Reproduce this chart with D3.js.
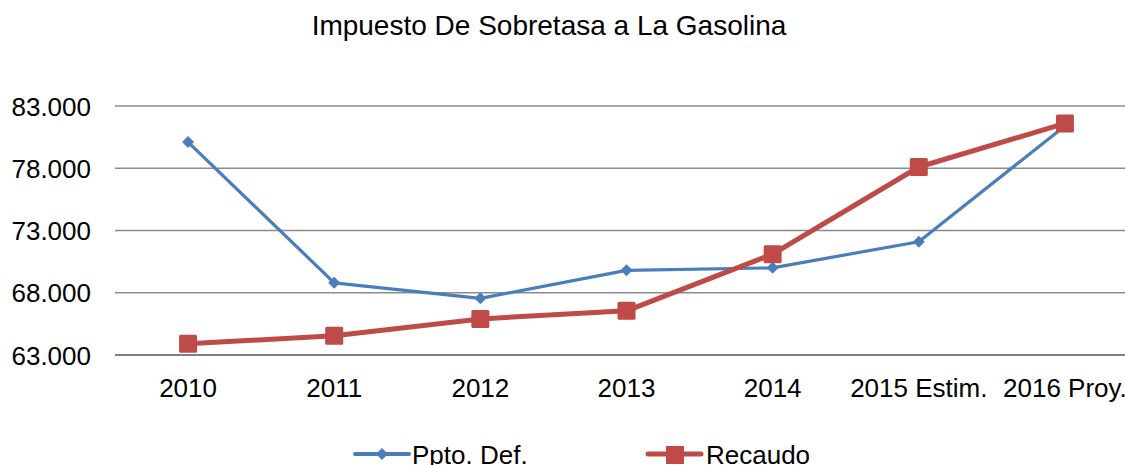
<!DOCTYPE html>
<html><head><meta charset="utf-8">
<script src="https://cdn.jsdelivr.net/npm/d3@7"></script>
<style>body{margin:0;background:#fff;overflow:hidden}svg{display:block}text{font-family:"Liberation Sans",Arial,sans-serif;fill:#000}</style>
</head><body>
<svg id="c" width="1125" height="465"></svg>
<script>
const categories = ["2010","2011","2012","2013","2014","2015 Estim.","2016 Proy."];
const pptoDef = [80.1, 68.8, 67.55, 69.8, 70.0, 72.1, 81.4];
const recaudo = [63.9, 64.55, 65.9, 66.55, 71.1, 78.1, 81.6];
const yTicks = [63, 68, 73, 78, 83];
const seriesNames = ["Ppto. Def.", "Recaudo"];

(function () {
const svg = d3.select("#c");
const pl = 115, pr = 1138, pt = 106, pb = 355;
const x = d3.scaleBand().domain(categories).range([pl, pr]);
const y = d3.scaleLinear().domain([63, 83]).range([pb, pt]);

svg.append("text").attr("x", 549).attr("y", 35).attr("text-anchor", "middle")
  .style("font-size", "28px").text("Impuesto De Sobretasa a La Gasolina");

const grid = svg.append("g");
yTicks.forEach(t => {
  grid.append("line").attr("x1", pl).attr("x2", pr).attr("y1", y(t)).attr("y2", y(t))
    .attr("stroke", t === 63 ? "#7f7f7f" : "#8c8c8c").attr("stroke-width", t === 63 ? 2 : 1.6);
});

const yAxis = d3.axisLeft(y).tickValues(yTicks).tickSize(0).tickPadding(0)
  .tickFormat(v => d3.format(".3f")(v));
const ya = svg.append("g").attr("transform", `translate(${pl - 24},0)`).call(yAxis);
ya.select(".domain").remove();
ya.selectAll("text").style("font-size", "26px").attr("fill", "#000").attr("dy", "0.35em");

const xAxis = d3.axisBottom(x).tickSize(0).tickPadding(0);
const xa = svg.append("g").attr("transform", `translate(0,${pb + 42})`).call(xAxis);
xa.select(".domain").remove();
xa.selectAll("text").style("font-size", "26px").attr("fill", "#000").attr("dy", "0");

const cx = c => x(c) + x.bandwidth() / 2;
const line = d3.line().x((d, i) => cx(categories[i])).y(d => y(d));

svg.append("path").datum(pptoDef).attr("d", line).attr("fill", "none")
  .attr("stroke", "#4a7ebb").attr("stroke-width", 3.2).attr("stroke-linejoin", "round");
svg.append("g").selectAll("path").data(pptoDef).join("path")
  .attr("d", d3.symbol().type(d3.symbolSquare).size(72))
  .attr("transform", (d, i) => `translate(${cx(categories[i])},${y(d)}) rotate(45)`)
  .attr("fill", "#4a7ebb");

svg.append("path").datum(recaudo).attr("d", line).attr("fill", "none")
  .attr("stroke", "#be4b48").attr("stroke-width", 5).attr("stroke-linejoin", "round");
svg.append("g").selectAll("rect").data(recaudo).join("rect")
  .attr("x", (d, i) => cx(categories[i]) - 9).attr("y", d => y(d) - 9)
  .attr("width", 18).attr("height", 18).attr("rx", 1.5).attr("fill", "#be4b48");

// legend
const lg = svg.append("g");
const ly = 454;
lg.append("line").attr("x1", 355).attr("x2", 409).attr("y1", ly).attr("y2", ly)
  .attr("stroke", "#4a7ebb").attr("stroke-width", 4).attr("stroke-linecap", "round");
lg.append("path").attr("d", d3.symbol().type(d3.symbolSquare).size(72))
  .attr("transform", `translate(382,${ly}) rotate(45)`).attr("fill", "#4a7ebb");
lg.append("text").attr("x", 412).attr("y", 464).style("font-size", "26px").text(seriesNames[0]);
lg.append("line").attr("x1", 648).attr("x2", 701).attr("y1", ly).attr("y2", ly)
  .attr("stroke", "#be4b48").attr("stroke-width", 5).attr("stroke-linecap", "round");
lg.antml = null;
lg.append("rect").attr("x", 666).attr("y", ly - 8).attr("width", 18).attr("height", 18).attr("fill", "#be4b48");
lg.append("text").attr("x", 706).attr("y", 464).style("font-size", "26px").text(seriesNames[1]);
})();
</script>
</body></html>
